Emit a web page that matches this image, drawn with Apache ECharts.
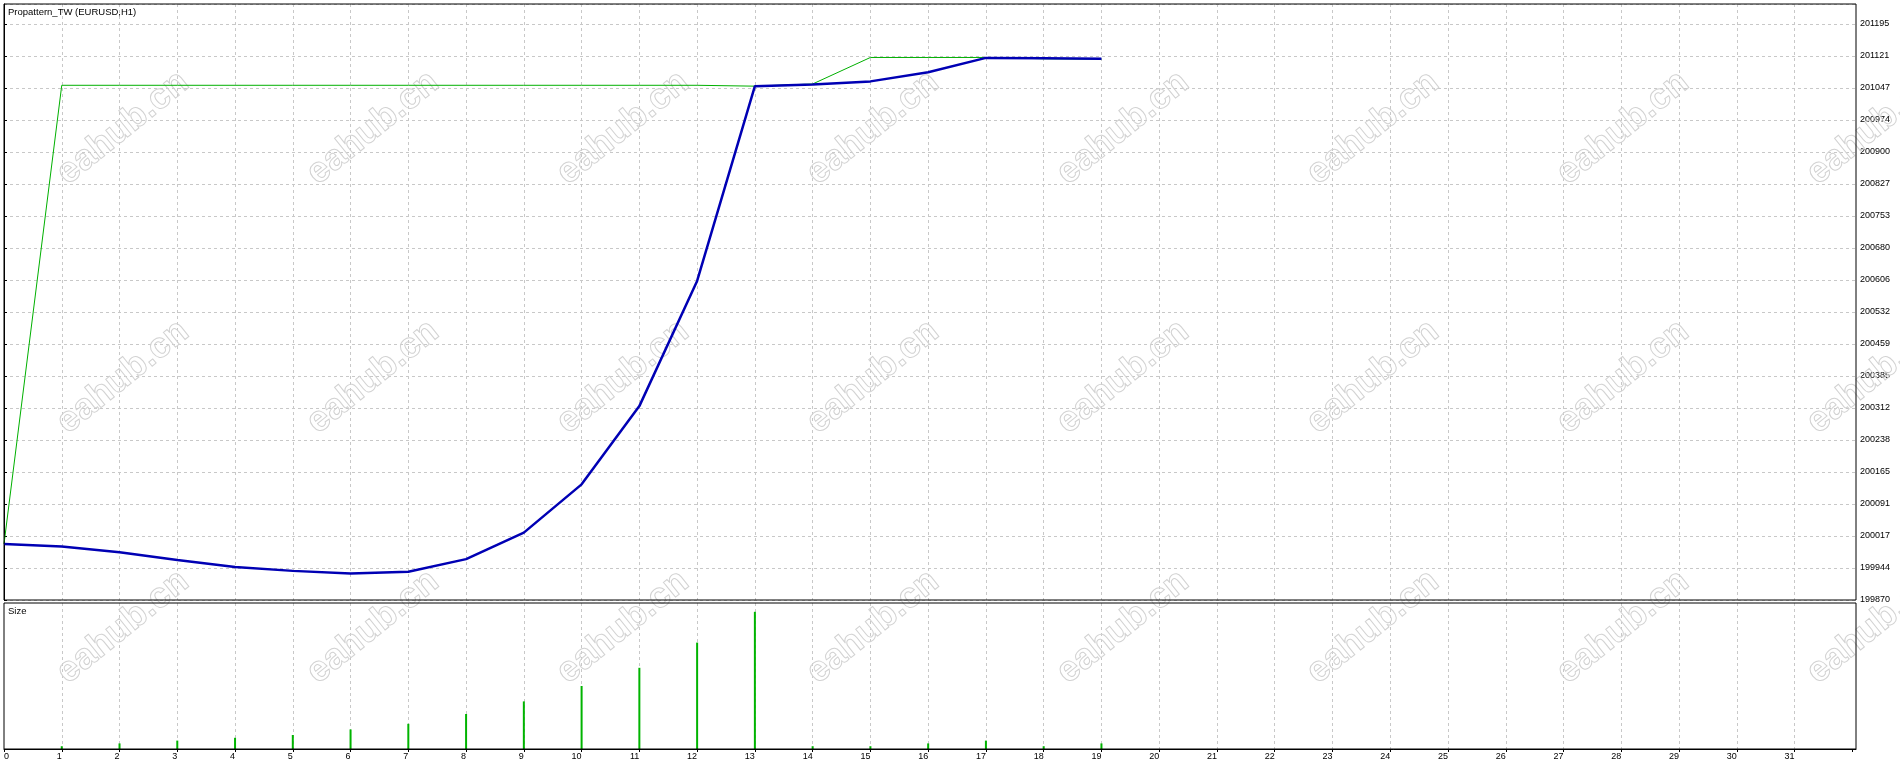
<!DOCTYPE html>
<html>
<head>
<meta charset="utf-8">
<script src="https://cdn.jsdelivr.net/npm/echarts@6/dist/echarts.min.js"></script>
<style>
html,body{margin:0;padding:0;background:#fff;}
#chart{width:1900px;height:766px;}
</style>
</head>
<body>
<div id="chart"></div>
<script>
// ---- data ----
var bars = [0,1,2,3,4,5,6,7,8,9,10,11,12,13,14,15,16,17,18,19];
var equity = [199999,199993,199980,199962,199946,199937,199931,199935,199964,200025,200136,200316,200604,201052,201056,201063,201084,201117,201116,201115];
var balance = [199999,201054,201054,201054,201054,201054,201054,201054,201054,201054,201054,201054,201054,201052,201057,201118,201118,201118,201115,201114];
var lotSize = [null,0.01,0.02,0.03,0.04,0.05,0.07,0.09,0.125,0.17,0.225,0.29,0.38,0.49,0.01,0.01,0.02,0.03,0.01,0.02];
var yTickLabels = ['199870','199944','200017','200091','200165','200238','200312','200385','200459','200532','200606','200680','200753','200827','200900','200974','201047','201121','201195'];
var titleMain = 'Propattern_TW (EURUSD,H1)';
var titleSub = 'Size';
var watermark = 'eahub.cn';

// ---- layout ----
var Y_MIN = 199870;
var Y_STEP = (201195 - 199870) / 18;
var PX_PER_STEP = 32;
var TOP = 4, MAIN_BOTTOM = 600, SUB_TOP = 603, SUB_BOTTOM = 749;
var LEFT = 4, RIGHT_EDGE = 1856, X_SPACING = 57.76;
var X_MAX = (RIGHT_EDGE - LEFT) / X_SPACING;
var Y_MAX = Y_MIN + (MAIN_BOTTOM - TOP) / PX_PER_STEP * Y_STEP;
var SIZE_MAX = (SUB_BOTTOM - SUB_TOP) / 2.8 * 0.01;
var FONT = '"Liberation Sans", Arial, sans-serif';
var GRID_LINE = {show:true, lineStyle:{color:'#c8c8c8', type:[3,3], width:1}};
// vertical grid colours: none on the left border (0) or just inside the right border (32)
var vColors = [];
for (var i = 0; i < 34; i++) vColors.push((i === 0 || i >= 32) ? 'rgba(0,0,0,0)' : '#c8c8c8');
var V_GRID_LINE = {show:true, lineStyle:{color:vColors, type:[3,3], width:1}};

var wmX = [123,373,623,873,1123,1373,1623,1873];
var wmY = [128,377,627];
var wmElems = [];
wmY.forEach(function(y){
  wmX.forEach(function(x){
    wmElems.push({
      type:'text', x:x, y:y, rotation: 39*Math.PI/180, z:1, silent:true,
      style:{text:watermark, font:'bold 36px ' + FONT, fill:'rgba(0,0,0,0)', stroke:'#d2d2d2', lineWidth:1, align:'center', verticalAlign:'middle'}
    });
  });
});

var chart = echarts.init(document.getElementById('chart'), null, {renderer:'canvas'});
var option = {
  backgroundColor:'#ffffff',
  animation:false,
  grid:[
    {left:LEFT, top:TOP, width:RIGHT_EDGE-LEFT, height:MAIN_BOTTOM-TOP, show:true, borderColor:'#000', borderWidth:1, backgroundColor:'rgba(0,0,0,0)', z:5},
    {left:LEFT, top:SUB_TOP, width:RIGHT_EDGE-LEFT, height:SUB_BOTTOM-SUB_TOP, show:true, borderColor:'#000', borderWidth:1, backgroundColor:'rgba(0,0,0,0)', z:5}
  ],
  xAxis:[
    {type:'value', gridIndex:0, min:0, max:X_MAX, interval:1,
     axisLine:{show:false}, axisTick:{show:false}, axisLabel:{show:false}, splitLine:V_GRID_LINE},
    {type:'value', gridIndex:1, min:0, max:X_MAX, interval:1,
     axisLine:{show:true, lineStyle:{color:'#000', width:1}},
     axisTick:{show:true, length:3, lineStyle:{color:'#000'}},
     axisLabel:{show:true, margin:3, fontSize:9, lineHeight:10, fontFamily:FONT, color:'#000', align:'right', alignMinLabel:'left', showMaxLabel:false,
       formatter:function(v){ return (v > 31.5 || Math.abs(v - Math.round(v)) > 1e-6) ? '' : String(Math.round(v)); }},
     splitLine:V_GRID_LINE}
  ],
  yAxis:[
    {type:'value', gridIndex:0, position:'right', min:Y_MIN, max:Y_MAX, interval:Y_STEP,
     axisLine:{show:true, lineStyle:{color:'#000'}},
     axisTick:{show:true, length:3, lineStyle:{color:'#000'}},
     axisLabel:{show:true, margin:4, fontSize:9, fontFamily:FONT, color:'#000', showMaxLabel:false,
       formatter:function(v){ var k=(v-Y_MIN)/Y_STEP; var r=Math.round(k); return (Math.abs(k-r)<0.01 && yTickLabels[r]) ? yTickLabels[r] : ''; }},
     splitLine:GRID_LINE},
    {type:'value', gridIndex:1, min:0, max:SIZE_MAX,
     axisLine:{show:false}, axisTick:{show:false}, axisLabel:{show:false}, splitLine:{show:false}}
  ],
  graphic:{elements:[
    {type:'text', left:8, top:7, z:10, style:{text:titleMain, font:'9.5px ' + FONT, fill:'#000'}},
    {type:'text', left:8, top:606, z:10, style:{text:titleSub, font:'9.5px ' + FONT, fill:'#000'}}
  ].concat(wmElems)},
  series:[
    {name:'balance', type:'line', xAxisIndex:0, yAxisIndex:0, data:bars.map(function(b,i){return [b, balance[i]];}),
     showSymbol:false, symbol:'none', lineStyle:{color:'#00b000', width:1}, z:3},
    {name:'equity', type:'line', xAxisIndex:0, yAxisIndex:0, data:bars.map(function(b,i){return [b, equity[i]];}),
     showSymbol:false, symbol:'none', lineStyle:{color:'#0000b4', width:2.5}, z:4},
    {name:'size', type:'bar', xAxisIndex:1, yAxisIndex:1, data:bars.map(function(b,i){return [b, lotSize[i]];}),
     barWidth:2, itemStyle:{color:'#00b400'}, z:3}
  ]
};
chart.setOption(option);
</script>
</body>
</html>
